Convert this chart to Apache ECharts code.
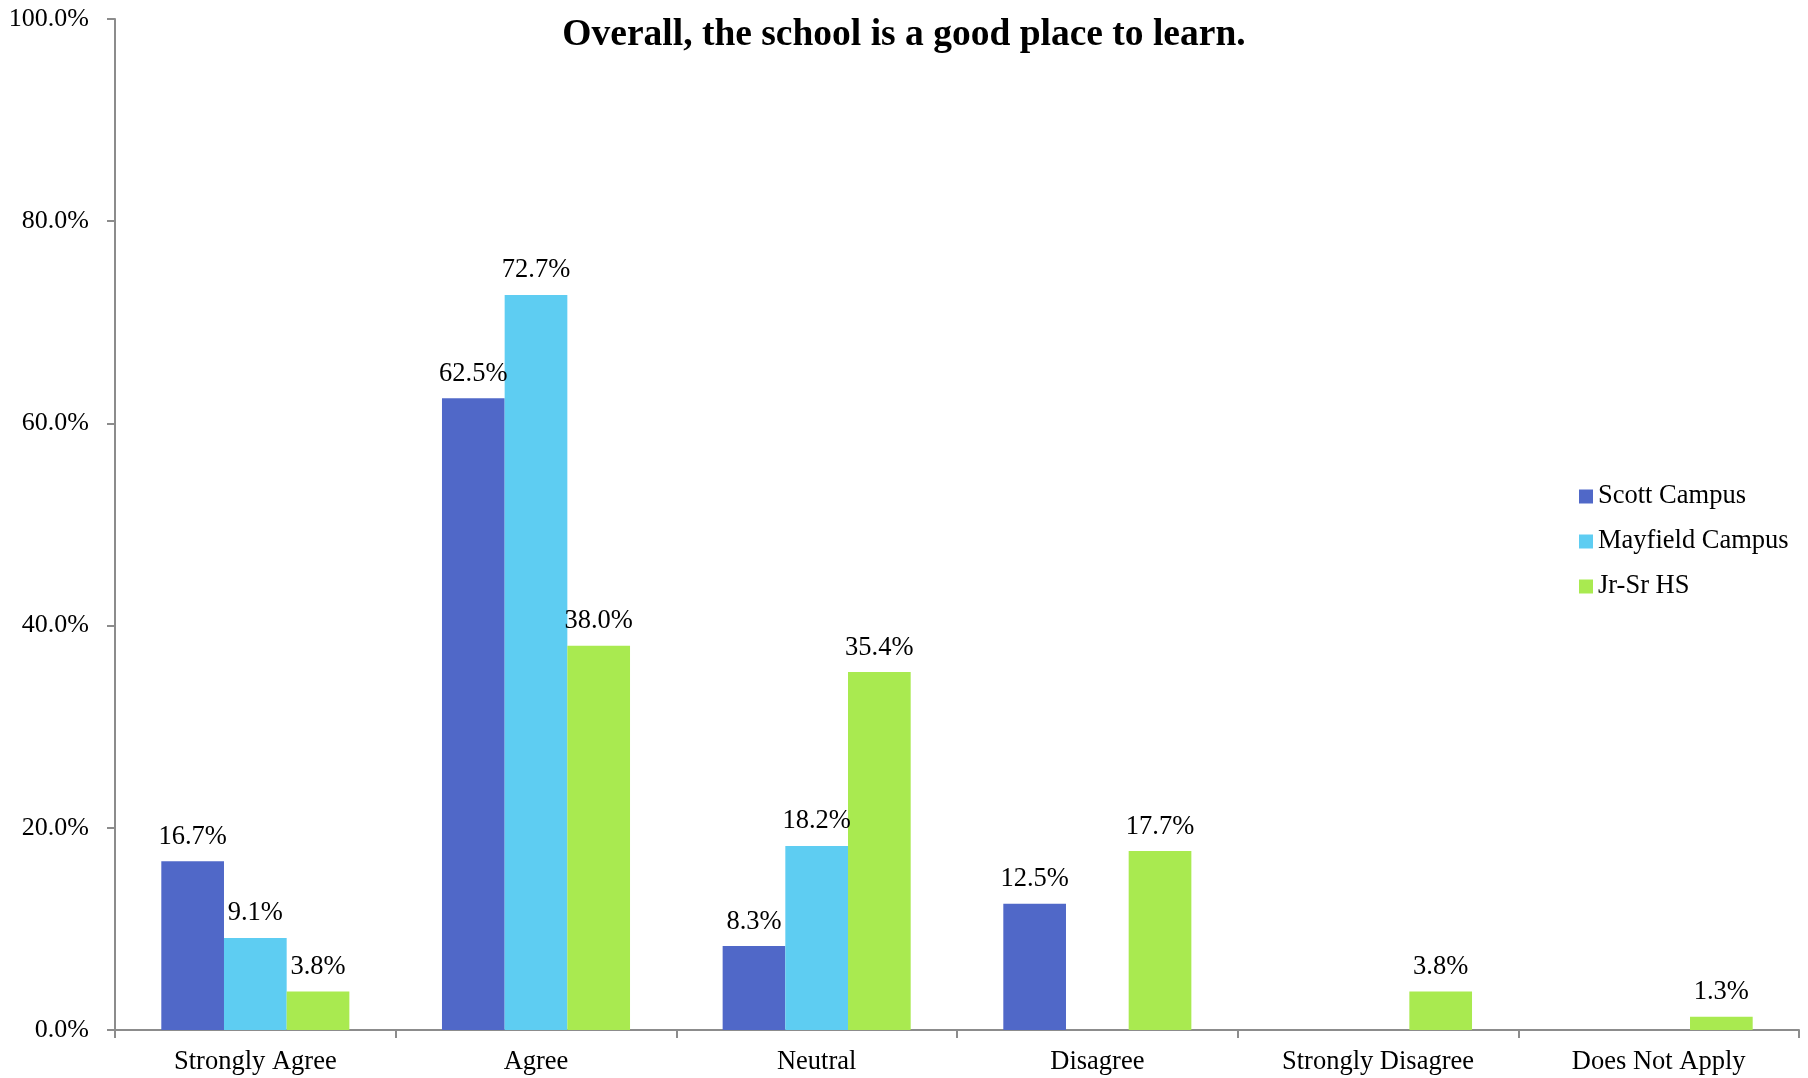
<!DOCTYPE html>
<html>
<head>
<meta charset="utf-8">
<script src="https://cdn.jsdelivr.net/npm/echarts@6/dist/echarts.min.js"></script>
<style>
html,body{margin:0;padding:0;background:#fff;}
#main{width:1808px;height:1078px;}
</style>
</head>
<body>
<div id="main"></div>
<script>
// 数据
var categories = ['Strongly Agree', 'Agree', 'Neutral', 'Disagree', 'Strongly Disagree', 'Does Not Apply'];
var scottCampus = [16.7, 62.5, 8.3, 12.5, null, null];
var mayfieldCampus = [9.1, 72.7, 18.2, null, null, null];
var jrSrHS = [3.8, 38.0, 35.4, 17.7, 3.8, 1.3];
var yTicks = [0, 20, 40, 60, 80, 100];

var serif = "'Liberation Serif', 'Times New Roman', serif";

function makeSeries(name, data, color){
	return {
		name: name,
		type: 'bar',
		data: data,
		barGap: '0%',
		barCategoryGap: '33%',
		itemStyle: {color: color},
		label: {
			show: true,
			position: 'top',
			distance: 11,
			color: '#000',
			fontFamily: serif,
			fontSize: 26.5,
			formatter: function(p){ return p.value.toFixed(1) + '%'; }
		}
	};
}

var myChart = echarts.init(document.getElementById('main'));
var option = {
	animation: false,
	backgroundColor: '#fff',
	title: {
		text: 'Overall, the school is a good place to learn.',
		left: 'center',
		top: 11,
		textStyle: {
			fontFamily: serif,
			fontSize: 37.5,
			fontWeight: 'bold',
			color: '#000'
		}
	},
	legend: {
		orient: 'vertical',
		left: 1579,
		top: 483,
		padding: 0,
		itemWidth: 14,
		itemHeight: 14,
		itemGap: 18,
		icon: 'rect',
		textStyle: {
			fontFamily: serif,
			fontSize: 26.5,
			color: '#000'
		},
		data: ['Scott Campus', 'Mayfield Campus', 'Jr-Sr HS']
	},
	grid: {
		left: 115,
		right: 9,
		top: 19,
		bottom: 48,
		containLabel: false
	},
	xAxis: {
		type: 'category',
		data: categories,
		axisLine: {lineStyle: {color: '#8c8c8c', width: 2}},
		axisTick: {show: true, length: 8, lineStyle: {color: '#8c8c8c', width: 2}},
		axisLabel: {
			margin: 19,
			color: '#000',
			fontFamily: serif,
			fontSize: 26.5
		}
	},
	yAxis: {
		type: 'value',
		min: yTicks[0],
		max: yTicks[yTicks.length - 1],
		interval: 20,
		splitLine: {show: false},
		axisLine: {show: true, lineStyle: {color: '#8c8c8c', width: 2}},
		axisTick: {show: true, length: 8, lineStyle: {color: '#8c8c8c', width: 2}},
		axisLabel: {
			margin: 26,
			color: '#000',
			fontFamily: serif,
			fontSize: 26,
			formatter: function(v){ return v.toFixed(1) + '%'; }
		}
	},
	series: [
		makeSeries('Scott Campus', scottCampus, '#5068c8'),
		makeSeries('Mayfield Campus', mayfieldCampus, '#5ecdf2'),
		makeSeries('Jr-Sr HS', jrSrHS, '#a9ea50')
	]
};
myChart.setOption(option);
</script>
</body>
</html>
